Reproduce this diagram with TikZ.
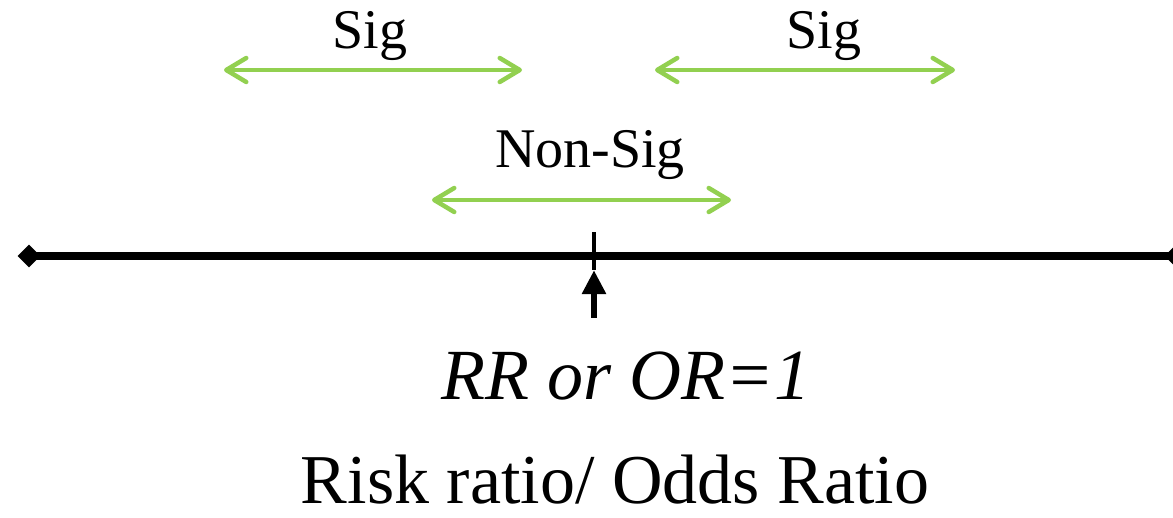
\documentclass[tikz,border=0pt]{standalone}
\usepackage{fontspec}
\setmainfont{Liberation Serif}
\usepackage{tikz}
\usetikzlibrary{arrows.meta,shapes.geometric}

\definecolor{siggreen}{RGB}{146,208,80}

\begin{document}
\begin{tikzpicture}[
    x=1pt, y=-1pt,
    lbl/.style={anchor=base, inner sep=0, font=\fontsize{56}{66}\selectfont},
    rng/.style={{Straight Barb[length=20pt,width=24pt,line join=round,line cap=round]}-{Straight Barb[length=20pt,width=24pt,line join=round,line cap=round]}, line width=4.5pt, siggreen, line cap=round},
    ends/.style={diamond, fill=black, inner sep=0, minimum size=23pt},
    axis/.style={line width=7.5pt, black}
]
\useasboundingbox (0,0) rectangle (1173,518);

% the scale
\node[ends] (lft) at (29,256) {};
\node[ends] (rgt) at (1176,256) {};
\draw[axis] (lft.center) -- (rgt.center);
\node[fill=black, inner sep=0, minimum width=4.5pt, minimum height=38pt] (tick) at (594,251) {};
\coordinate (base) at (594,318);
\draw[line width=6pt, -{Triangle[width=23pt,length=24pt]}] (base) -- (tick.south);

% intervals
\coordinate (s1a) at (224,70);  \coordinate (s1b) at (522,70);
\coordinate (s2a) at (655,70);  \coordinate (s2b) at (955,70);
\coordinate (nsa) at (432,200); \coordinate (nsb) at (731,200);
\draw[rng] (s1a) -- (s1b);
\draw[rng] (s2a) -- (s2b);
\draw[rng] (nsa) -- (nsb);

\node[lbl] (sig1) at (370,49) {Sig};
\node[lbl] (sig2) at (824,49) {Sig};
\node[lbl] (nsig) at (590,168) {Non-Sig};

% labels under the scale
\node[lbl, font=\fontsize{72}{84}\selectfont\itshape] (rr) at (626,400) {RR or OR=1};
\node[lbl, font=\fontsize{70}{82}\selectfont] (name) at (615,503) {Risk ratio/ Odds Ratio};
\end{tikzpicture}
\end{document}
